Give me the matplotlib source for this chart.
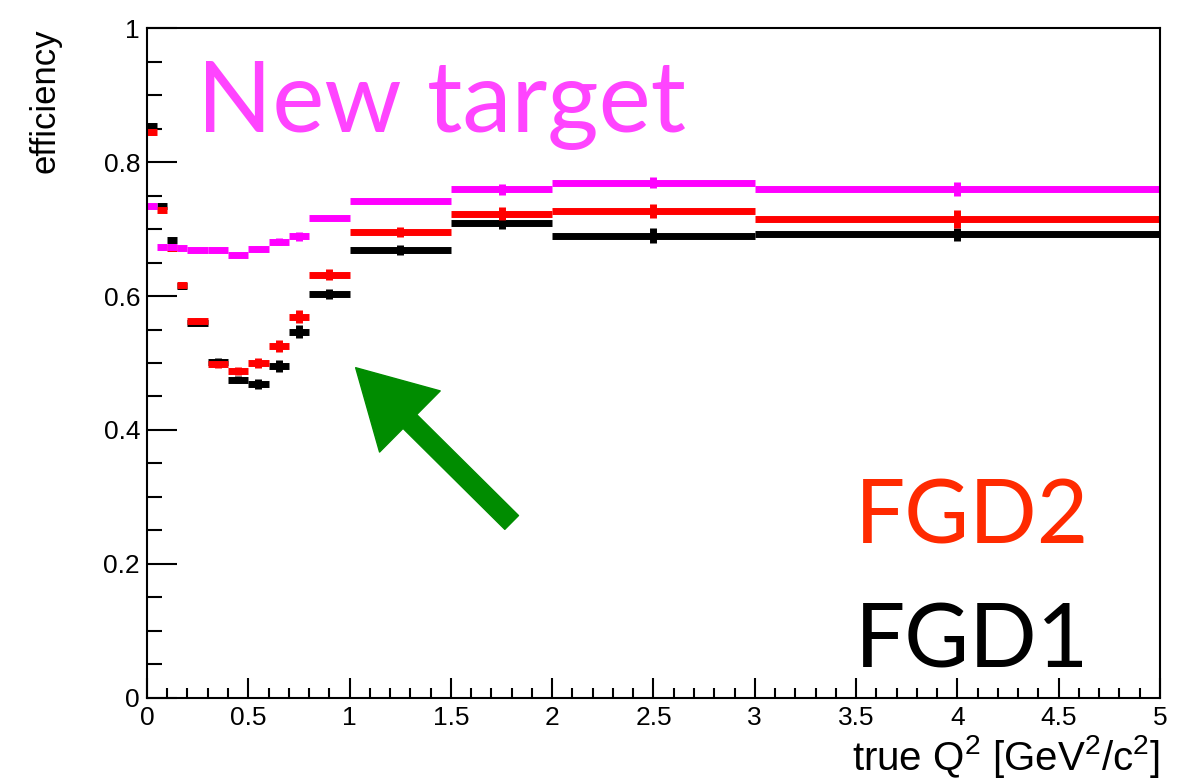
"""Efficiency vs true Q2 for FGD1, FGD2 and the new target"""

import numpy as np
import matplotlib.pyplot as plt
from matplotlib.ticker import MultipleLocator

plt.rcParams['font.family'] = ['Liberation Sans', 'DejaVu Sans']
plt.rcParams['mathtext.fontset'] = 'custom'
plt.rcParams['mathtext.rm'] = 'Liberation Sans'
plt.rcParams['mathtext.it'] = 'Liberation Sans'

# bin edges in true Q2 [GeV2/c2]
edges = [0, 0.05, 0.1, 0.15, 0.2, 0.3, 0.4, 0.5, 0.6, 0.7, 0.8, 1.0, 1.5, 2.0, 3.0, 5.0]

eff_fgd1 = [0.854, 0.735, 0.683, 0.615, 0.560, 0.502, 0.475, 0.469, 0.496, 0.547,
            0.603, 0.668, 0.709, 0.690, 0.692]
err_fgd1 = [0.004, 0.004, 0.004, 0.004, 0.004, 0.005, 0.005, 0.0075, 0.009, 0.010,
            0.008, 0.0075, 0.009, 0.011, 0.010]

eff_fgd2 = [0.845, 0.729, 0.672, 0.617, 0.563, 0.498, 0.488, 0.500, 0.525, 0.569,
            0.632, 0.695, 0.723, 0.727, 0.715]
err_fgd2 = [0.004, 0.004, 0.004, 0.004, 0.004, 0.005, 0.006, 0.0075, 0.009, 0.010,
            0.008, 0.0075, 0.0095, 0.011, 0.014]

eff_new = [0.734, 0.673, 0.673, 0.671, 0.668, 0.668, 0.661, 0.670, 0.681, 0.689,
           0.716, 0.742, 0.759, 0.769, 0.760]
err_new = [0.003, 0.003, 0.003, 0.003, 0.003, 0.003, 0.003, 0.004, 0.005, 0.007,
           0.003, 0.003, 0.0075, 0.008, 0.010]

lo = np.array(edges[:-1])
hi = np.array(edges[1:])
mid = (lo + hi) / 2

fig = plt.figure(figsize=(11.9, 7.83), dpi=100)
ax = fig.add_axes([0.1235, 0.1086, 0.8513, 0.8556])

# black first, red over it, magenta on top
for vals, errs, col in [(eff_fgd1, err_fgd1, 'black'),
                        (eff_fgd2, err_fgd2, '#ff0000'),
                        (eff_new, err_new, '#ff00ff')]:
    v = np.array(vals)
    e = np.array(errs)
    ax.hlines(v, lo, hi, colors=col, linewidth=5, capstyle='butt')
    ax.vlines(mid, v - e, v + e, colors=col, linewidth=5, capstyle='butt')

ax.set_xlim(0, 5)
ax.set_ylim(0, 1)

ax.xaxis.set_minor_locator(MultipleLocator(0.1))
ax.yaxis.set_minor_locator(MultipleLocator(0.05))
ax.set_xticks([0, 0.5, 1, 1.5, 2, 2.5, 3, 3.5, 4, 4.5, 5])
ax.set_xticklabels(['0', '0.5', '1', '1.5', '2', '2.5', '3', '3.5', '4', '4.5', '5'])
ax.set_yticks([0, 0.2, 0.4, 0.6, 0.8, 1])
ax.set_yticklabels(['0', '0.2', '0.4', '0.6', '0.8', '1'])

ax.tick_params(axis='both', which='both', direction='in', width=1.5,
               labelsize=19, top=False, right=False)
ax.tick_params(axis='x', which='major', length=14.4, pad=6)
ax.tick_params(axis='x', which='minor', length=7.2)
ax.tick_params(axis='y', which='major', length=21.6, pad=5)
ax.tick_params(axis='y', which='minor', length=10.8)
for s in ax.spines.values():
    s.set_linewidth(1.5)

ax.set_xlabel(r'true Q$^{2}$ [GeV$^{2}$/c$^{2}$]', fontsize=29, loc='right', labelpad=2)
ax.set_ylabel('efficiency', fontsize=25, loc='top', labelpad=30)

# annotations pasted on the plot
ax.text(0.247, 0.845, 'New target', color='#ff44ff', fontsize=71,
        family=['Lato', 'DejaVu Sans'], va='baseline')
ax.text(3.495, 0.231, 'FGD2', color='#ff2a00', fontsize=64,
        family=['Lato', 'DejaVu Sans'], va='baseline')
ax.text(3.495, 0.046, 'FGD1', color='black', fontsize=64,
        family=['Lato', 'DejaVu Sans'], va='baseline')

ax.annotate('', xy=(1.03, 0.493), xytext=(1.80, 0.262),
            arrowprops=dict(arrowstyle='simple,head_length=55,head_width=62,tail_width=14',
                            mutation_scale=1, color='#008c00', shrinkA=0, shrinkB=0))

fig.savefig('out.png', dpi=100)
